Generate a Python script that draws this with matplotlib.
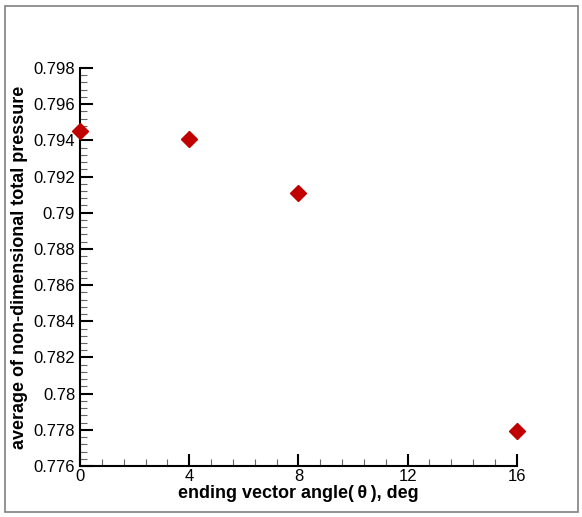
import matplotlib.pyplot as plt
from matplotlib.patches import Rectangle
from matplotlib.ticker import MultipleLocator, FuncFormatter

plt.rcParams['font.family'] = ['Liberation Sans', 'DejaVu Sans']

angle = [0, 4, 8, 16]
pressure = [0.79452, 0.79408, 0.79110, 0.77793]

fig = plt.figure(figsize=(5.82, 5.17), dpi=100)
ax = fig.add_axes([0.1375, 0.0986, 0.7505, 0.770])

# outer frame of the picture
fig.patches.append(Rectangle((0.009, 0.01), 0.984, 0.978, transform=fig.transFigure,
                             fill=False, edgecolor='#808080', linewidth=1.2))

ax.plot(angle, pressure, linestyle='none', marker='D', markersize=8,
        color='#c00000', clip_on=False, zorder=5)

ax.set_xlim(0, 16)
ax.set_ylim(0.776, 0.798)
ax.xaxis.set_major_locator(MultipleLocator(4))
ax.xaxis.set_minor_locator(MultipleLocator(0.8))
ax.yaxis.set_major_locator(MultipleLocator(0.002))
ax.yaxis.set_minor_locator(MultipleLocator(0.0004))
ax.yaxis.set_major_formatter(FuncFormatter(lambda v, p: ('%.3f' % v).rstrip('0')))

for s in ['top', 'right']:
    ax.spines[s].set_visible(False)
for s in ['left', 'bottom']:
    ax.spines[s].set_linewidth(1.5)

ax.tick_params(which='both', direction='in', labelsize=12)
ax.tick_params(which='major', length=9, width=1.5)
ax.tick_params(which='minor', length=5, width=0.8, color='#666666')
ax.tick_params(axis='x', pad=2)

ax.set_xlabel('ending vector angle(\u2009\u03b8\u2009), deg', fontsize=13, fontweight='bold', labelpad=1)
ax.set_ylabel('average of non-dimensional total pressure', fontsize=13, fontweight='bold', labelpad=4)

fig.savefig('out.png', dpi=100)
